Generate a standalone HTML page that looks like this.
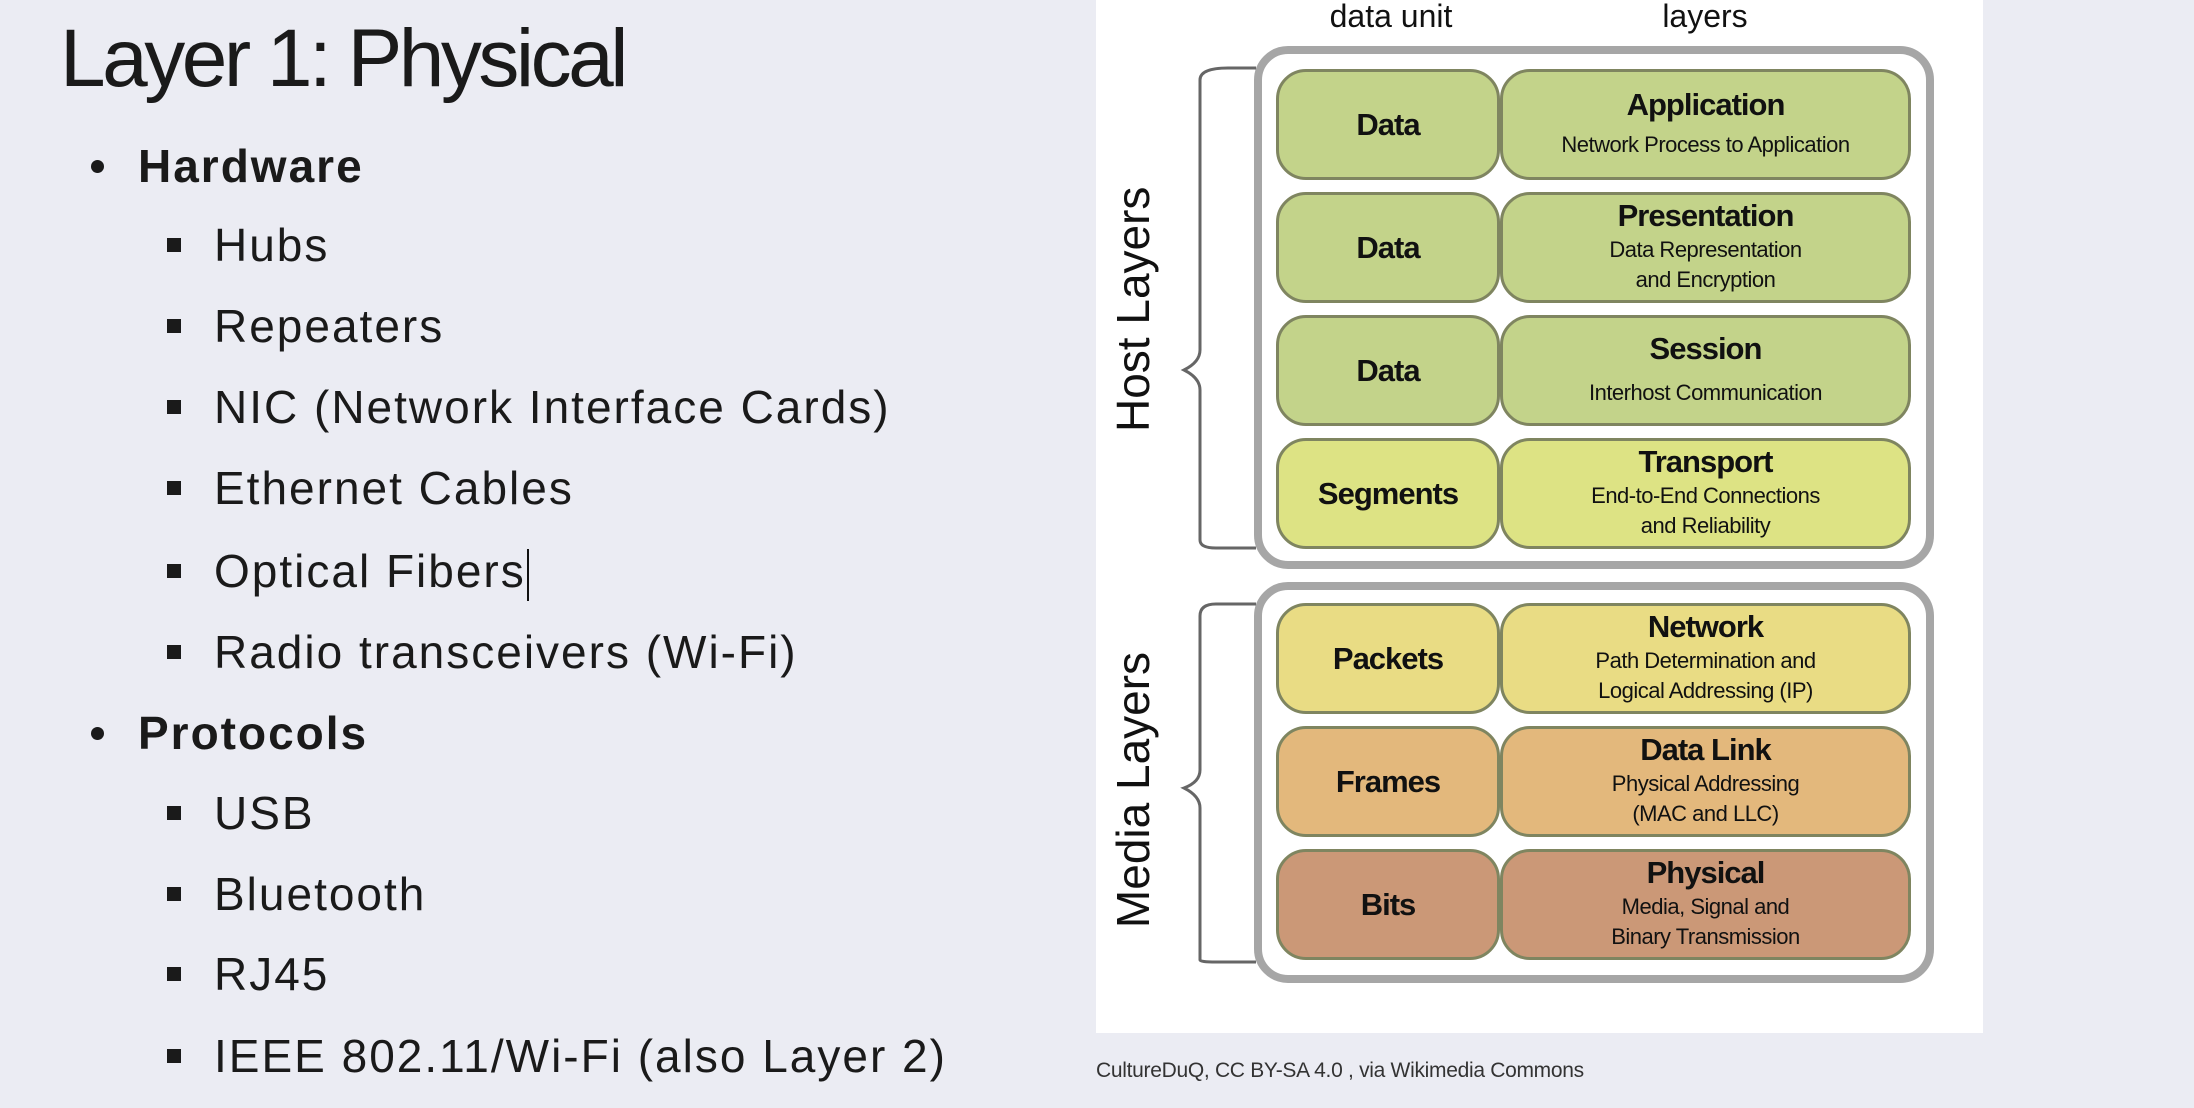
<!DOCTYPE html>
<html><head><meta charset="utf-8"><style>
body{margin:0;width:2194px;height:1108px;background:#ebecf3;position:relative;overflow:hidden;font-family:"Liberation Sans",sans-serif;color:#111}
.a{position:absolute;white-space:nowrap}
.title{left:60px;top:12px;font-size:82px;font-weight:300;letter-spacing:-3.5px;color:#1a1a1a}
.l1{left:138px;font-size:46px;font-weight:bold;color:#1a1a1a;letter-spacing:2px}
.l2{left:214px;font-size:46px;color:#1a1a1a;letter-spacing:2px}
.dot{position:absolute;width:13px;height:13px;border-radius:50%;background:#1a1a1a;left:91px}
.sq{position:absolute;width:14px;height:14px;background:#1a1a1a;left:167px}
.panel{left:1096px;top:0;width:887px;height:1033px;background:#fff}
.box{position:absolute;border:8px solid #a6a6a6;border-radius:34px;box-sizing:border-box}
.cell{position:absolute;border:3px solid #7f8560;border-radius:30px;box-sizing:border-box;display:flex;flex-direction:column;align-items:center;justify-content:center;text-align:center;color:#111;line-height:1.0}
.u{font-size:31px;font-weight:bold;letter-spacing:-1px}
.t{font-size:31px;font-weight:bold;letter-spacing:-1px;margin-bottom:4px}
.s{font-size:22px;line-height:30px;letter-spacing:-0.5px}
.vert{position:absolute;font-size:46px;transform:rotate(-90deg);transform-origin:center;white-space:nowrap;color:#111}
</style></head><body>
<div class="a title">Layer 1: Physical</div>
<div class="dot" style="top:160px"></div><div class="a l1" style="top:139px">Hardware</div>
<div class="sq" style="top:238px"></div><div class="a l2" style="top:218px">Hubs</div>
<div class="sq" style="top:319px"></div><div class="a l2" style="top:299px">Repeaters</div>
<div class="sq" style="top:400px"></div><div class="a l2" style="top:380px">NIC (Network Interface Cards)</div>
<div class="sq" style="top:481px"></div><div class="a l2" style="top:461px">Ethernet Cables</div>
<div class="sq" style="top:564px"></div><div class="a l2" style="top:544px">Optical Fibers<span style="display:inline-block;width:2px;height:52px;background:#111;vertical-align:middle;margin-left:1px"></span></div>
<div class="sq" style="top:645px"></div><div class="a l2" style="top:625px">Radio transceivers (Wi-Fi)</div>
<div class="dot" style="top:727px"></div><div class="a l1" style="top:706px">Protocols</div>
<div class="sq" style="top:806px"></div><div class="a l2" style="top:786px">USB</div>
<div class="sq" style="top:887px"></div><div class="a l2" style="top:867px">Bluetooth</div>
<div class="sq" style="top:967px"></div><div class="a l2" style="top:947px">RJ45</div>
<div class="sq" style="top:1049px"></div><div class="a l2" style="top:1029px">IEEE 802.11/Wi-Fi (also Layer 2)</div>

<div class="a panel"></div>
<div class="a" style="left:1326px;top:-2px;font-size:32px;width:130px;text-align:center">data unit</div>
<div class="a" style="left:1640px;top:-2px;font-size:32px;width:130px;text-align:center">layers</div>

<div class="box" style="left:1254px;top:46px;width:680px;height:523px"></div>
<div class="box" style="left:1254px;top:582px;width:680px;height:401px"></div>

<svg class="a" style="left:1170px;top:60px" width="90" height="930" viewBox="0 0 90 930">
<path d="M86 8 H58 Q30 8 30 20 V290 Q30 302 14 310 Q30 318 30 330 V480 Q30 488 46 488 H86" fill="none" stroke="#666" stroke-width="3"/>
<path d="M86 544 H46 Q30 544 30 556 V710 Q30 722 14 728 Q30 736 30 748 V900 Q30 902 46 902 H86" fill="none" stroke="#666" stroke-width="3"/>
</svg>
<div class="vert" style="left:1013px;top:285px;width:240px;text-align:center">Host Layers</div>
<div class="vert" style="left:993px;top:763px;width:280px;text-align:center">Media Layers</div>

<div class="cell" style="left:1276px;top:69px;width:224px;height:111px;background:#c3d38a"><div class="u">Data</div></div>
<div class="cell" style="left:1500px;top:69px;width:411px;height:111px;background:#c3d38a"><div class="t">Application</div><div class="s" style="margin-top:6px">Network Process to Application</div></div>
<div class="cell" style="left:1276px;top:192px;width:224px;height:111px;background:#c3d38a"><div class="u">Data</div></div>
<div class="cell" style="left:1500px;top:192px;width:411px;height:111px;background:#c3d38a"><div class="t">Presentation</div><div class="s">Data Representation<br>and Encryption</div></div>
<div class="cell" style="left:1276px;top:315px;width:224px;height:111px;background:#c3d38a"><div class="u">Data</div></div>
<div class="cell" style="left:1500px;top:315px;width:411px;height:111px;background:#c3d38a"><div class="t">Session</div><div class="s" style="margin-top:10px">Interhost Communication</div></div>
<div class="cell" style="left:1276px;top:438px;width:224px;height:111px;background:#dde384"><div class="u">Segments</div></div>
<div class="cell" style="left:1500px;top:438px;width:411px;height:111px;background:#dde384"><div class="t">Transport</div><div class="s">End-to-End Connections<br>and Reliability</div></div>
<div class="cell" style="left:1276px;top:603px;width:224px;height:111px;background:#e9dc84"><div class="u">Packets</div></div>
<div class="cell" style="left:1500px;top:603px;width:411px;height:111px;background:#e9dc84"><div class="t">Network</div><div class="s">Path Determination and<br>Logical Addressing (IP)</div></div>
<div class="cell" style="left:1276px;top:726px;width:224px;height:111px;background:#e3b87c"><div class="u">Frames</div></div>
<div class="cell" style="left:1500px;top:726px;width:411px;height:111px;background:#e3b87c"><div class="t">Data Link</div><div class="s">Physical Addressing<br>(MAC and LLC)</div></div>
<div class="cell" style="left:1276px;top:849px;width:224px;height:111px;background:#cb9877"><div class="u">Bits</div></div>
<div class="cell" style="left:1500px;top:849px;width:411px;height:111px;background:#cb9877"><div class="t">Physical</div><div class="s">Media, Signal and<br>Binary Transmission</div></div>

<div class="a" style="left:1096px;top:1059px;font-size:21px;color:#333;letter-spacing:-0.3px">CultureDuQ, CC BY-SA 4.0 , via Wikimedia Commons</div>
</body></html>
